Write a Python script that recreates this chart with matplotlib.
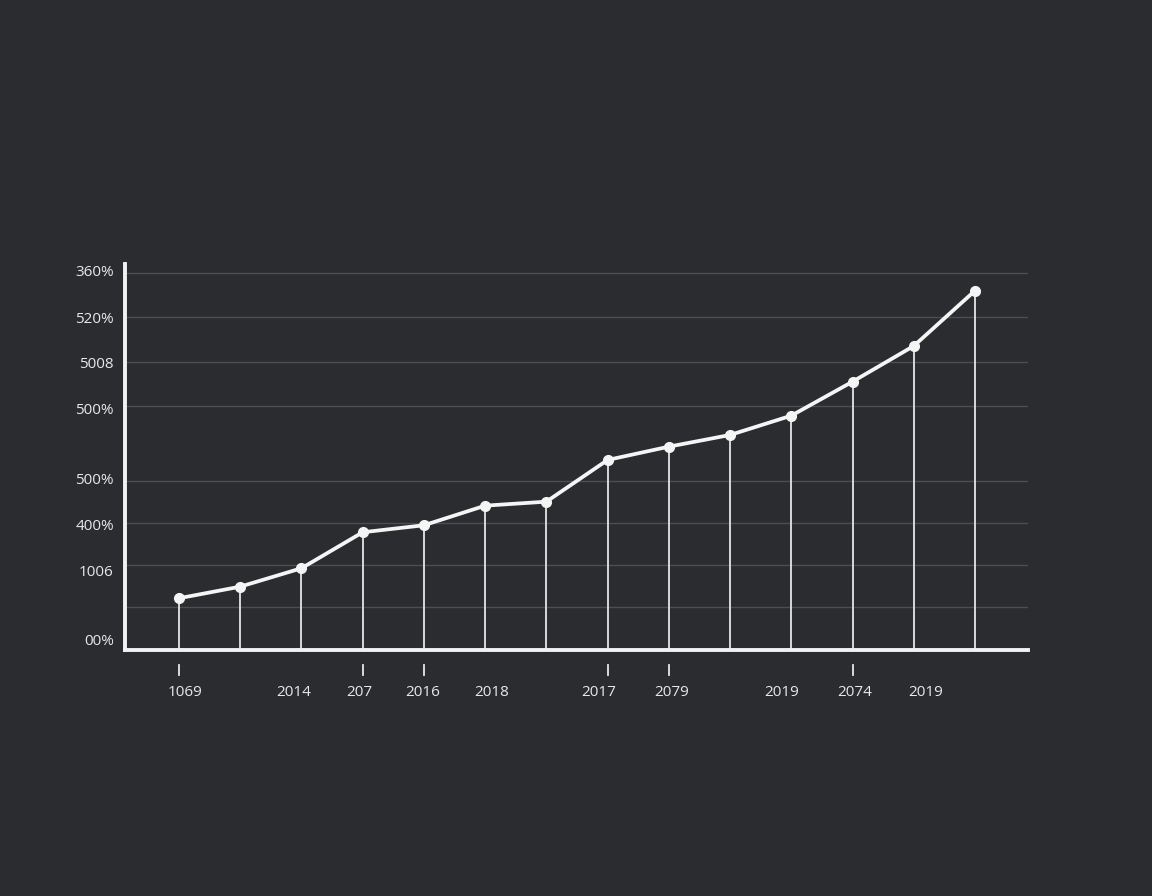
import matplotlib
matplotlib.use("Agg")
import matplotlib.pyplot as plt
import matplotlib.transforms as mtransforms

# series (index positions along x, heights in chart units)
x_idx = list(range(14))
values = [51.7, 63.3, 81.7, 117.7, 124.7, 144.3, 148.3, 190.0, 203.3, 215.0,
          234.3, 268.3, 304.0, 359.3]

# y axis: grid rows and the (misaligned) labels
grid_rows = [43.3, 85.0, 126.7, 169.0, 244.3, 288.0, 333.3, 377.3]
ytick_pos = [10, 79, 125, 171, 241, 287, 332, 379]
ytick_labels = ["00%", "1006", "400%", "500%", "500%", "5008", "520%", "360%"]

# x axis labels and the short marks beneath the axis
xlabel_pos = [0.1, 1.88, 2.94, 3.98, 5.11, 6.86, 8.04, 9.85, 11.04, 12.2]
xlabel_text = ["1069", "2014", "207", "2016", "2018", "2017", "2079", "2019",
               "2074", "2019"]
xmark_pos = [0, 3, 4, 7, 8, 11]

BG = "#2b2c2f"
FG = "#e8e8e8"

plt.rcParams["font.family"] = ["Open Sans", "DejaVu Sans"]

fig = plt.figure(figsize=(11.52, 8.96), dpi=100, facecolor=BG)
ax = fig.add_axes([0.1085, 0.2746, 0.7839, 0.4308], facecolor=BG)

ax.set_xlim(-0.882, 13.866)
ax.set_ylim(0, 386)

for g in grid_rows:
    ax.axhline(g, color="#4d4e52", lw=1.0, zorder=1)

ax.vlines(x_idx, 0, values, color="#d8d8d8", lw=1.4, zorder=2)
ax.plot(x_idx, values, color="#f5f5f5", lw=2.7, marker="o", markersize=7,
        zorder=3, solid_capstyle="round")

for side in ("top", "right"):
    ax.spines[side].set_visible(False)
for side in ("left", "bottom"):
    ax.spines[side].set_color("#f2f2f2")
    ax.spines[side].set_linewidth(2.8)
    ax.spines[side].set_capstyle("projecting")

ax.set_yticks(ytick_pos)
ax.set_yticklabels(ytick_labels)
ax.tick_params(axis="y", length=0, pad=8, labelsize=11, labelcolor=FG)
ax.set_xticks([])

trans = mtransforms.blended_transform_factory(ax.transData, ax.transAxes)
for xm in xmark_pos:
    ax.plot([xm, xm], [-0.039, -0.065], color=FG, lw=1.3, transform=trans,
            clip_on=False)
for xp, lab in zip(xlabel_pos, xlabel_text):
    ax.text(xp, -0.109, lab, transform=trans, ha="center", va="center",
            color=FG, fontsize=11)

fig.savefig("out.png", dpi=100, facecolor=BG)
